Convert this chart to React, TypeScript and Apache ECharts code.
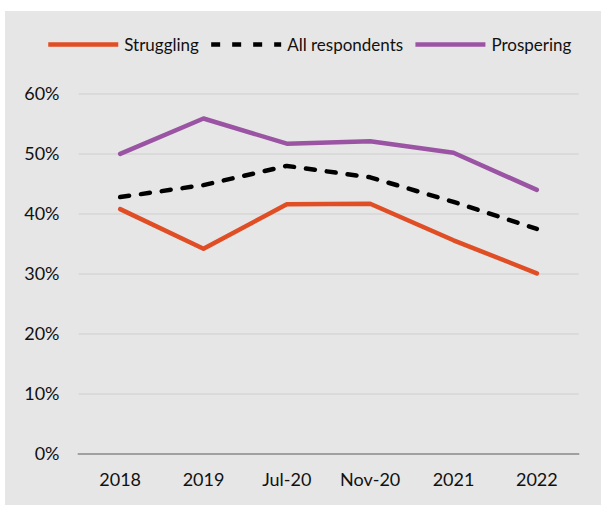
import React, { useEffect, useRef } from "react";
import * as echarts from "echarts";

const categories = ["2018", "2019", "Jul-20", "Nov-20", "2021", "2022"];
const struggling = [40.7, 34.1, 41.5, 41.6, 35.5, 30.0];
const allRespondents = [42.7, 44.7, 47.9, 46.0, 41.9, 37.4];
const prospering = [49.9, 55.8, 51.6, 52.0, 50.1, 43.9];
const yTicks = [0, 10, 20, 30, 40, 50, 60];

const FONT = "Lato";

export default function App() {
  const ref = useRef<HTMLDivElement>(null);
  useEffect(() => {
    if (!ref.current) return;
    const chart = echarts.init(ref.current, undefined, { renderer: "svg" });
    chart.setOption({
      animation: false,
      backgroundColor: "#ffffff",
      textStyle: { fontFamily: FONT },
      graphic: [
        {
          type: "rect",
          z: -10,
          silent: true,
          shape: { x: 5, y: 11, width: 600, height: 500 },
          style: { fill: "#e6e6e6" },
        },
      ],
      legend: {
        top: 31,
        left: 41,
        itemWidth: 70,
        itemHeight: 14,
        itemGap: 10,
        itemStyle: { opacity: 0 },
        lineStyle: { width: 4.5, cap: "butt" },
        textStyle: { fontSize: 17, color: "#111", fontFamily: FONT, padding: [0, 0, 0, 1] },
        data: ["Struggling", "All respondents", "Prospering"],
      },
      grid: { left: 78.5, right: 22.5, top: 93.3, bottom: 51.7, containLabel: false },
      xAxis: {
        type: "category",
        data: categories,
        boundaryGap: true,
        axisLine: { lineStyle: { color: "#a0a0a0", width: 2 } },
        axisTick: { show: false },
        axisLabel: { fontSize: 18, color: "#111", margin: 17, fontFamily: FONT },
      },
      yAxis: {
        type: "value",
        min: yTicks[0],
        max: yTicks[yTicks.length - 1],
        interval: 10,
        axisLine: { show: false },
        axisTick: { show: false },
        axisLabel: {
          fontSize: 18,
          color: "#111",
          margin: 19,
          fontFamily: FONT,
          formatter: (v: number) => `${v}%`,
        },
        splitLine: { lineStyle: { color: "#d6d6d6", width: 1.5 } },
      },
      series: [
        {
          name: "Struggling",
          type: "line",
          data: struggling,
          symbol: "none",
          color: "#e04e25",
          lineStyle: { color: "#e04e25", width: 4.5, cap: "round", join: "round" },
        },
        {
          name: "All respondents",
          type: "line",
          data: allRespondents,
          symbol: "none",
          color: "#000000",
          lineStyle: { color: "#000000", width: 4.5, type: [9, 12], cap: "round", join: "round" },
        },
        {
          name: "Prospering",
          type: "line",
          data: prospering,
          symbol: "none",
          color: "#9b54a4",
          lineStyle: { color: "#9b54a4", width: 4.5, cap: "round", join: "round" },
        },
      ],
    });
    return () => chart.dispose();
  }, []);
  return (
    <div
      ref={ref}
      style={{ position: "absolute", left: 0, top: 0, width: 601, height: 505 }}
    />
  );
}
